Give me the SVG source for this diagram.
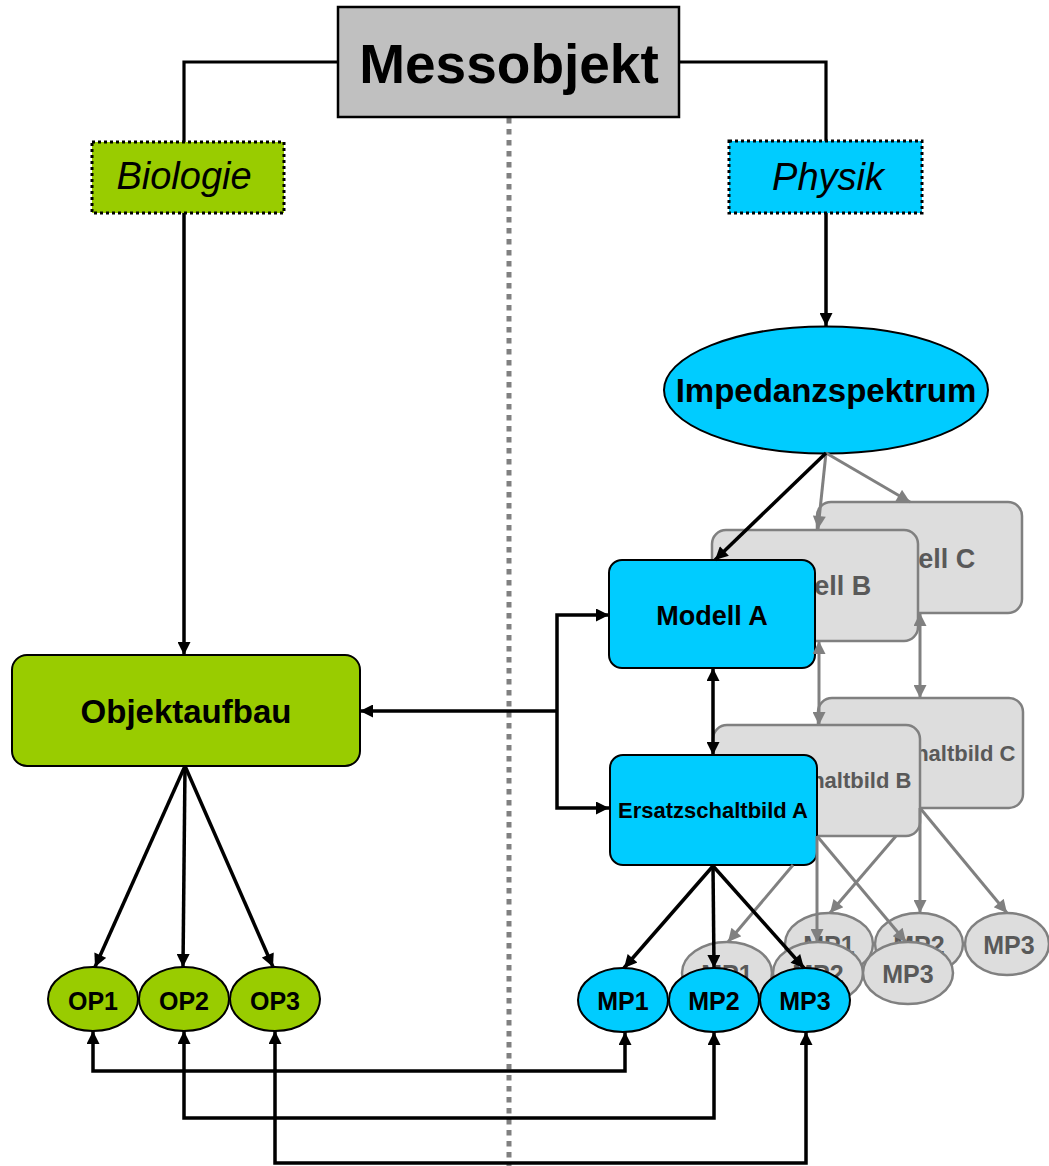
<svg xmlns="http://www.w3.org/2000/svg" width="1049" height="1166" viewBox="0 0 1049 1166">
<defs>
<marker id="ab" viewBox="0 0 10 10" refX="10" refY="5" markerWidth="15" markerHeight="13" markerUnits="userSpaceOnUse" orient="auto-start-reverse"><path d="M0,0 L10,5 L0,10 z" fill="#000"/></marker>
<marker id="ag" viewBox="0 0 10 10" refX="10" refY="5" markerWidth="15" markerHeight="13" markerUnits="userSpaceOnUse" orient="auto-start-reverse"><path d="M0,0 L10,5 L0,10 z" fill="#808080"/></marker>
</defs>
<style>
.t{font-family:"Liberation Sans",Arial,sans-serif;font-weight:bold;text-anchor:middle;fill:#000}
.i{font-family:"Liberation Sans",Arial,sans-serif;font-style:italic;text-anchor:middle;fill:#000}
.blue{fill:#00ccff;stroke:#000;stroke-width:2}
.green{fill:#99cc00;stroke:#000;stroke-width:2}
.gray{fill:#dddddd;stroke:#808080;stroke-width:2.5}
.gt{fill:#595959}
.c{fill:none;stroke:#000;stroke-width:3.5;marker-end:url(#ab)}
.cn{fill:none;stroke:#000;stroke-width:3.2}
.cd{fill:none;stroke:#000;stroke-width:3.5;marker-start:url(#ab);marker-end:url(#ab)}
.cg{fill:none;stroke:#808080;stroke-width:3;marker-end:url(#ag)}
.cgd{fill:none;stroke:#808080;stroke-width:3;marker-start:url(#ag);marker-end:url(#ag)}
</style>
<rect width="1049" height="1166" fill="#fff"/>
<line id="divider" x1="509" y1="118" x2="509" y2="1166" stroke="#808080" stroke-width="5" stroke-dasharray="5.5 5.5"/>

<g id="messobjekt">
<rect x="338" y="7" width="341" height="110" fill="#c0c0c0" stroke="#000" stroke-width="2.5"/>
<text class="t" x="509" y="83" font-size="55">Messobjekt</text>
</g>
<g id="biologie">
<rect x="92" y="142" width="192" height="71" fill="#99cc00" stroke="#000" stroke-width="3" stroke-dasharray="3 3"/>
<text class="i" x="184" y="189" font-size="38">Biologie</text>
</g>
<g id="physik">
<rect x="729" y="141" width="193" height="72" fill="#00ccff" stroke="#000" stroke-width="3" stroke-dasharray="3 3"/>
<text class="i" x="828" y="190" font-size="38">Physik</text>
</g>
<g id="impedanzspektrum">
<ellipse cx="826" cy="390" rx="162" ry="63.5" class="blue"/>
<text class="t" x="826" y="402" font-size="33">Impedanzspektrum</text>
</g>
<g id="objektaufbau">
<rect x="12" y="655" width="348" height="111" rx="15" class="green"/>
<text class="t" x="186" y="723" font-size="33">Objektaufbau</text>
</g>

<g id="modell-c">
<rect x="817" y="502" width="205" height="111" rx="14" class="gray"/>
<text class="t gt" x="919" y="568" font-size="27">Modell C</text>
</g>
<g id="modell-b">
<rect x="712" y="530" width="206" height="111" rx="14" class="gray"/>
<text class="t gt" x="815" y="595" font-size="27">Modell B</text>
</g>
<g id="modell-a">
<rect x="609" y="560" width="206" height="108" rx="13" class="blue"/>
<text class="t" x="712" y="625" font-size="27">Modell A</text>
</g>

<g id="esb-c">
<rect x="818" y="698" width="205" height="110" rx="14" class="gray"/>
<text class="t gt" x="920" y="761" font-size="22">Ersatzschaltbild C</text>
</g>
<g id="esb-b">
<rect x="713" y="725" width="207" height="111" rx="14" class="gray"/>
<text class="t gt" x="816" y="788" font-size="22">Ersatzschaltbild B</text>
</g>
<g id="esb-a">
<rect x="610" y="755" width="207" height="110" rx="13" class="blue"/>
<text class="t" x="713" y="818" font-size="22">Ersatzschaltbild A</text>
</g>

<g id="mp-c">
<ellipse cx="829" cy="944" rx="44" ry="31" class="gray"/>
<text class="t gt" x="829" y="954" font-size="25">MP1</text>
<ellipse cx="919" cy="944" rx="44" ry="31" class="gray"/>
<text class="t gt" x="919" y="954" font-size="25">MP2</text>
<ellipse cx="1007" cy="944" rx="42" ry="31" class="gray"/>
<text class="t gt" x="1009" y="954" font-size="25">MP3</text>
</g>
<g id="mp-b">
<ellipse cx="727" cy="973" rx="45" ry="31" class="gray"/>
<text class="t gt" x="727" y="983" font-size="25">MP1</text>
<ellipse cx="818" cy="973" rx="45" ry="31" class="gray"/>
<text class="t gt" x="818" y="983" font-size="25">MP2</text>
<ellipse cx="908" cy="973" rx="45" ry="31" class="gray"/>
<text class="t gt" x="908" y="983" font-size="25">MP3</text>
</g>
<g id="mp1-a">
<ellipse cx="623" cy="1000" rx="45" ry="32" class="blue"/>
<text class="t" x="623" y="1010" font-size="25">MP1</text>
</g>
<g id="mp2-a">
<ellipse cx="714" cy="1000" rx="45" ry="32" class="blue"/>
<text class="t" x="714" y="1010" font-size="25">MP2</text>
</g>
<g id="mp3-a">
<ellipse cx="805" cy="1000" rx="45" ry="32" class="blue"/>
<text class="t" x="805" y="1010" font-size="25">MP3</text>
</g>

<g id="op1">
<ellipse cx="93" cy="999" rx="45" ry="32" class="green"/>
<text class="t" x="93" y="1010" font-size="25">OP1</text>
</g>
<g id="op2">
<ellipse cx="184" cy="999" rx="45" ry="32" class="green"/>
<text class="t" x="184" y="1010" font-size="25">OP2</text>
</g>
<g id="op3">
<ellipse cx="275" cy="999" rx="45" ry="32" class="green"/>
<text class="t" x="275" y="1010" font-size="25">OP3</text>
</g>

<g id="connectors">
<path class="cn" d="M338,62 H184 V142"/>
<path class="cn" d="M679,62 H826 V141"/>
<path class="c" d="M184,213 V655"/>
<path class="c" d="M826,213 V326"/>

<path class="cg" d="M826,453 L818,529"/>
<path class="cg" d="M826,453 L910,502"/>
<path class="cgd" d="M819,641 V725"/>
<path class="cgd" d="M920,613 V698"/>
<path class="cg" d="M793,865 L728,942"/>
<path class="cg" d="M817,836 V942"/>
<path class="cg" d="M817,836 L906,942"/>
<path class="cg" d="M896,836 L830,913"/>
<path class="cg" d="M920,808 V913"/>
<path class="cg" d="M920,808 L1007,913"/>

<path class="c" d="M826,453 L715,560"/>
<path class="c" d="M557,711 H360"/>
<path class="cd" d="M609,615 H557 V808 H609"/>
<path class="cd" d="M713,668 V755"/>
<path class="c" d="M713,866 L624,968"/>
<path class="c" d="M713,866 L714,968"/>
<path class="c" d="M713,866 L804,968"/>
<path class="c" d="M185,766 L95,967"/>
<path class="c" d="M185,766 L183,967"/>
<path class="c" d="M185,766 L273,967"/>

<path class="cd" d="M93,1031 V1071 H625 V1032"/>
<path class="cd" d="M184,1031 V1118 H714 V1032"/>
<path class="cd" d="M275,1031 V1163 H806 V1032"/>
</g>
</svg>
